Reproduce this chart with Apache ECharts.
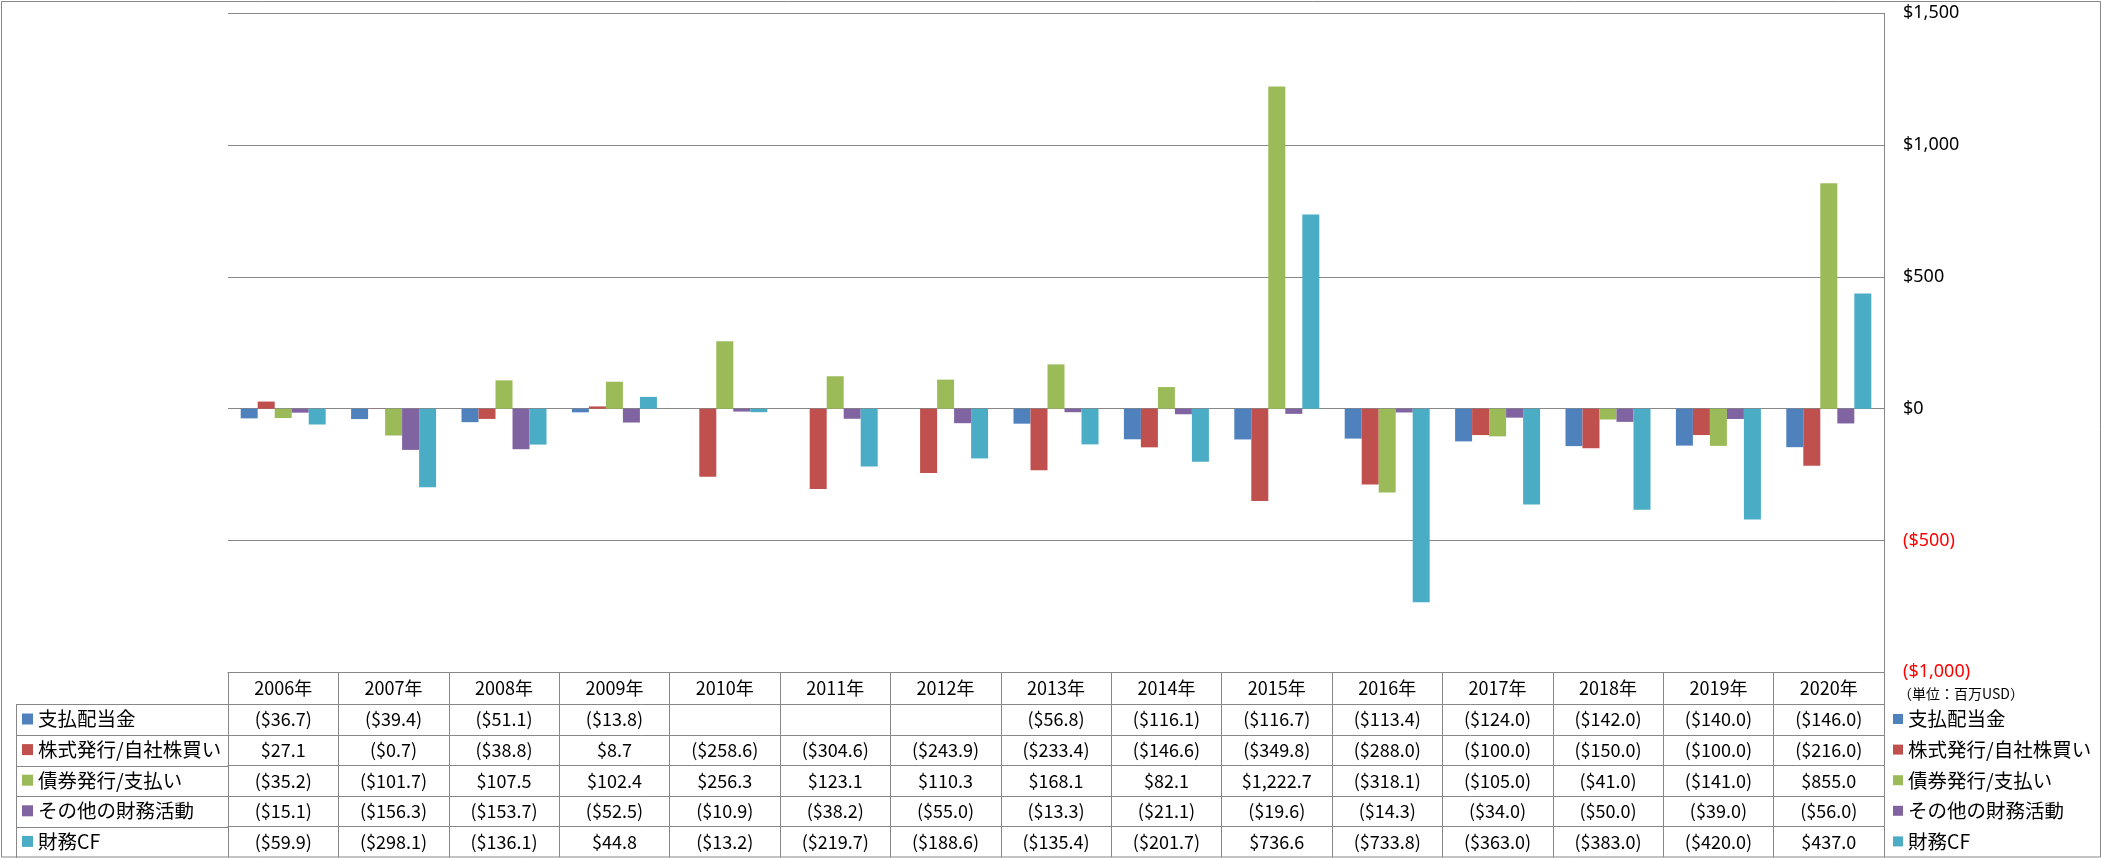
<!DOCTYPE html>
<html>
<head>
<meta charset="utf-8">
<script src="https://cdn.jsdelivr.net/npm/echarts@6/dist/echarts.min.js"></script>
<style>
html,body{margin:0;padding:0;background:#fff;}
#chart{width:2101px;height:858px;}
</style>
</head>
<body>
<div id="chart"></div>
<script>
const years = ['2006年','2007年','2008年','2009年','2010年','2011年','2012年','2013年','2014年','2015年','2016年','2017年','2018年','2019年','2020年'];
const seriesNames = ['支払配当金','株式発行/自社株買い','債券発行/支払い','その他の財務活動','財務CF'];
const dividends = [-36.7,-39.4,-51.1,-13.8,null,null,null,-56.8,-116.1,-116.7,-113.4,-124.0,-142.0,-140.0,-146.0];
const equity = [27.1,-0.7,-38.8,8.7,-258.6,-304.6,-243.9,-233.4,-146.6,-349.8,-288.0,-100.0,-150.0,-100.0,-216.0];
const debt = [-35.2,-101.7,107.5,102.4,256.3,123.1,110.3,168.1,82.1,1222.7,-318.1,-105.0,-41.0,-141.0,855.0];
const otherFin = [-15.1,-156.3,-153.7,-52.5,-10.9,-38.2,-55.0,-13.3,-21.1,-19.6,-14.3,-34.0,-50.0,-39.0,-56.0];
const financingCF = [-59.9,-298.1,-136.1,44.8,-13.2,-219.7,-188.6,-135.4,-201.7,736.6,-733.8,-363.0,-383.0,-420.0,437.0];
const yTicks = [-1000,-500,0,500,1000,1500];
const unitLabel = '（単位：百万USD）';

const seriesData = [dividends, equity, debt, otherFin, financingCF];
const colors = ['#4F81BD','#C0504D','#9BBB59','#8064A2','#4BACC6'];

const LINE = '#878787';
const JP = '"Noto Sans CJK JP", "Noto Sans", sans-serif';

function fmtCell(v){
  if (v === null || v === undefined) return '';
  const s = '$' + Math.abs(v).toLocaleString('en-US',{minimumFractionDigits:1, maximumFractionDigits:1});
  return v < 0 ? '(' + s + ')' : s;
}
function fmtAxis(v){
  v = Number(v);
  const s = '$' + Math.abs(v).toLocaleString('en-US');
  return v < 0 ? '(' + s + ')' : s;
}

// table row layout (pixels below the plot bottom)
const rowOffsets = [0, 31.7, 62.5, 93.2, 123.8, 154.4];
const rowHeights = [31.7, 30.8, 30.7, 30.6, 30.6, 30.6];
const GRID_LEFT = 228, GRID_RIGHT = 217, GRID_TOP = 13.3, GRID_BOTTOM = 858 - 672.3;
const plotBottomY = 672.3;

const xAxes = rowOffsets.map((off, k) => ({
  type: 'category',
  data: years,
  gridIndex: 0,
  position: 'bottom',
  offset: off,
  boundaryGap: true,
  axisLine: {show: true, onZero: false, lineStyle: {color: LINE, width: 1}},
  axisTick: {show: true, length: rowHeights[k], inside: false, interval: 0, lineStyle: {color: LINE, width: 1}},
  axisLabel: {
    show: true,
    interval: 0,
    margin: rowHeights[k] / 2,
    verticalAlign: 'middle',
    fontFamily: JP,
    fontSize: 18,
    color: '#000',
    formatter: k === 0 ? (v => v) : ((v, i) => fmtCell(seriesData[k-1][i]))
  },
  splitLine: {show: false}
}));

const series = seriesNames.map((name, i) => ({
  name: name,
  type: 'bar',
  xAxisIndex: 0,
  yAxisIndex: 0,
  data: seriesData[i],
  barGap: '0%',
  barCategoryGap: '23%',
  itemStyle: {color: colors[i]},
  emphasis: {disabled: true}
}));

// left column lines of the data table
const leftX = 16;
const graphics = [];
for (let k = 1; k < rowOffsets.length; k++) {
  const y = Math.round(plotBottomY + rowOffsets[k]) + 0.5;
  graphics.push({type:'line', silent:true, shape:{x1:leftX, y1:y, x2:GRID_LEFT, y2:y}, style:{stroke:LINE, lineWidth:1}});
}
graphics.push({type:'line', silent:true, shape:{x1:leftX+0.5, y1:Math.round(plotBottomY+rowOffsets[1])+0.5, x2:leftX+0.5, y2:858}, style:{stroke:LINE, lineWidth:1}});
// outer chart border
graphics.push({type:'rect', silent:true, shape:{x:1.5, y:1.5, width:2099, height:855.5}, style:{fill:null, stroke:LINE, lineWidth:1}});

const legendCommon = {
  orient: 'vertical',
  selectedMode: false,
  icon: 'rect',
  padding: 0,
  itemGap: 10.6,
  textStyle: {fontFamily: JP, fontSize: 19.5, color: '#000', lineHeight: 20},
  data: seriesNames
};

const option = {
  animation: false,
  backgroundColor: '#fff',
  color: colors,
  grid: {left: GRID_LEFT, right: GRID_RIGHT, top: GRID_TOP, bottom: GRID_BOTTOM, containLabel: false, outerBoundsMode: 'none'},
  legend: [
    Object.assign({}, legendCommon, {left: 22, top: 709, itemWidth: 11, itemHeight: 11}),
    Object.assign({}, legendCommon, {left: 1893, top: 709, itemWidth: 10, itemHeight: 10})
  ],
  xAxis: xAxes,
  yAxis: {
    type: 'value',
    position: 'right',
    min: yTicks[0],
    max: yTicks[yTicks.length-1],
    interval: 500,
    axisLine: {show: true, lineStyle: {color: LINE, width: 1}},
    axisTick: {show: false},
    splitLine: {show: true, lineStyle: {color: LINE, width: 1}},
    axisLabel: {
      margin: 19,
      fontFamily: '"Noto Sans", sans-serif',
      fontSize: 18,
      formatter: fmtAxis,
      color: v => (Number(v) < 0 ? '#FF0000' : '#000')
    },
    name: unitLabel,
    nameLocation: 'start',
    nameGap: 21,
    nameTextStyle: {fontFamily: JP, fontSize: 14, color: '#000', align: 'left', verticalAlign: 'middle', padding: [0,0,0,14]}
  },
  series: series,
  graphic: graphics
};

const chart = echarts.init(document.getElementById('chart'), null, {renderer: 'canvas'});
chart.setOption(option);
</script>
</body>
</html>
